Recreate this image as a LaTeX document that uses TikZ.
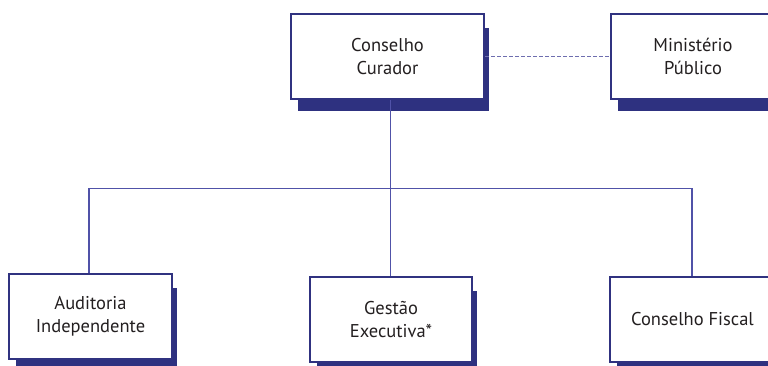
\documentclass[tikz,border=0pt]{standalone}
\usepackage{fontspec}
\setmainfont{PT Sans}
\usetikzlibrary{backgrounds}
\definecolor{navy}{RGB}{48,50,128}
\definecolor{shade}{RGB}{46,49,128}
\definecolor{linkc}{RGB}{80,82,168}
\definecolor{dashc}{RGB}{110,110,175}
\definecolor{txt}{RGB}{35,31,32}
\tikzset{
  orgbox/.style={draw=navy, line width=2pt, fill=white, minimum height=85pt, align=center, text=txt, font=\fontsize{18.5}{23.5}\selectfont, inner sep=0pt},
  shadowfill/.style={fill=shade},
  link/.style={draw=linkc, line width=1.1pt},
  dashlink/.style={draw=dashc, line width=1.1pt, dash pattern=on 4pt off 2pt}
}
\begin{document}
\begin{tikzpicture}[x=1pt,y=-1pt]
\useasboundingbox (0,0) rectangle (768,365);
\clip (0,0) rectangle (768,365);
\node[orgbox, minimum width=193pt] (cur) at (387.5,56.5) {Conselho\\Curador};
\node[orgbox, minimum width=164pt] (min) at (693,56.5) {Ministério\\Público};
\node[orgbox, minimum width=163pt] (aud) at (90.5,316.5) {Auditoria\\Independente};
\node[orgbox, minimum width=162pt] (ges) at (391,319.5) {Gestão\\Executiva*};
\node[orgbox, minimum width=165pt] (fis) at (692.5,319.5) {Conselho Fiscal};
\coordinate (hub) at (390.7,188.7);
\begin{scope}[on background layer]
  \foreach \b in {cur,min,aud,ges,fis}{
    \fill[shadowfill] ([shift={(8,15)}]\b.north west) rectangle ([shift={(4,11)}]\b.south east);
  }
  \draw[dashlink] (cur.east) -- (min.west);
  \draw[link] (hub |- cur.south) -- (hub);
  \draw[link] (aud.north -| 89,0) |- (hub) -| (fis.north -| 692,0);
  \draw[link] (ges.north -| 390.5,0) -- (hub -| 390.5,0);
\end{scope}
\end{tikzpicture}
\end{document}
